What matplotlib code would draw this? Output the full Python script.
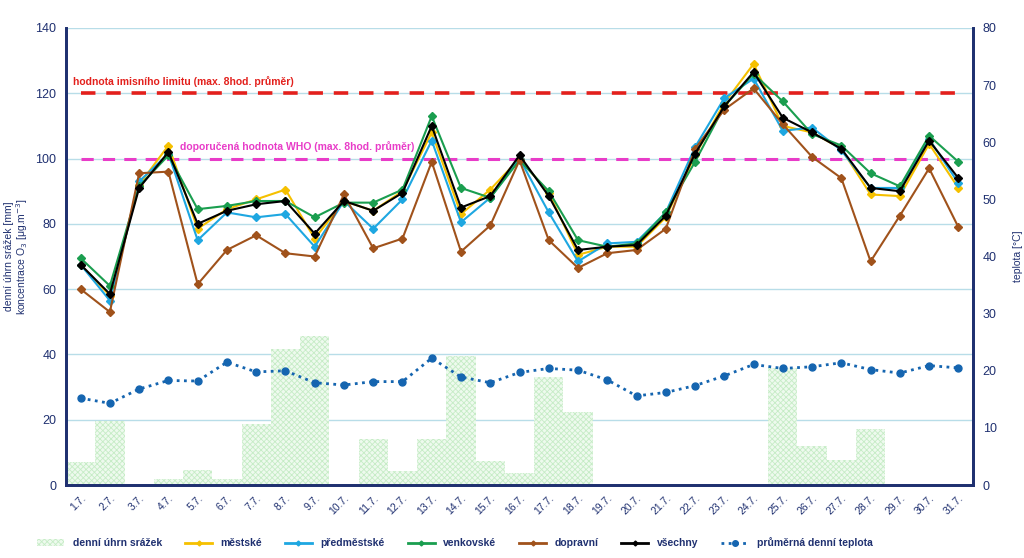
import matplotlib
matplotlib.use("Agg")
import matplotlib.pyplot as plt
import numpy as np
from matplotlib.patches import Patch
from matplotlib.lines import Line2D

plt.rcParams['font.family'] = ['Liberation Sans', 'DejaVu Sans']
plt.rcParams['hatch.linewidth'] = 0.6

days = [f"{d}.7." for d in range(1, 32)]

srazky = [7.1, 19.7, 0.3, 1.7, 4.6, 1.7, 18.7, 41.7, 45.6, 0.0,
          14.0, 4.3, 14.0, 39.5, 7.4, 3.8, 33.2, 22.5, 0.4, 0.0,
          0.0, 0.0, 0.0, 0.0, 35.7, 12.0, 7.7, 17.2, 0.0, 0.0, 0.0]

mestske = [67.5, 58, 92, 104, 78.5, 84.5, 87.5, 90.5, 75.5, 87,
           84, 90, 108, 83, 90.5, 100, 89.5, 70.5, 73, 73,
           82, 101, 117, 129, 110, 108, 103, 89, 88.5, 104.5, 91]

predmestske = [67.5, 56.5, 93, 101.5, 75, 83.5, 82, 83, 73, 87,
               78.5, 87.5, 105.5, 80.5, 88, 100, 83.5, 68.5, 74, 74.5,
               83.5, 103.5, 118.5, 124.5, 108.5, 109.5, 102.5, 91, 91, 106, 92.5]

venkovske = [69.5, 61, 91.5, 101, 84.5, 85.5, 87, 87, 82, 86.5,
             86.5, 90.5, 113, 91, 88, 99.5, 90, 75, 73, 74,
             83.5, 99, 116, 126, 117.5, 107.5, 104, 95.5, 91.5, 107, 99]

dopravni = [60, 53, 95.5, 96, 61.5, 72, 76.5, 71, 70, 89,
            72.5, 75.5, 99, 71.5, 79.5, 99.5, 75, 66.5, 71, 72,
            78.5, 103, 115, 121.5, 110.5, 100.5, 94, 68.5, 82.5, 97, 79]

vsechny = [67.5, 58.5, 91, 102, 80, 84, 86, 87, 77, 87,
           84, 89.5, 110, 85, 88.5, 101, 88.5, 72, 73, 73.5,
           82.5, 101.5, 116, 126.5, 112.5, 108, 103, 91, 90, 105.5, 94]

teplota = [15.2, 14.3, 16.8, 18.3, 18.2, 21.5, 19.8, 20.0, 17.9, 17.5,
           18.1, 18.1, 22.2, 18.9, 17.9, 19.7, 20.4, 20.1, 18.4, 15.6,
           16.2, 17.4, 19.1, 21.1, 20.4, 20.7, 21.4, 20.2, 19.6, 20.9, 20.5]

limit_value = 120
who_value = 100
limit_text = "hodnota imisního limitu (max. 8hod. průměr)"
who_text = "doporučená hodnota WHO (max. 8hod. průměr)"

navy = '#1f3070'
c_mest = '#f5c000'
c_pred = '#1ea7e1'
c_venk = '#1a9e4f'
c_dop = '#a0521b'
c_vse = '#000000'
c_tep = '#1565b0'

fig = plt.figure(figsize=(10.24, 5.58), dpi=100)
ax = fig.add_axes([66/1024, 1-485/558, (973-66)/1024, (485-28)/558])
x = np.arange(len(days))

ax.bar(x, srazky, width=1.0, color='#eefaee', edgecolor='#c6ecc6',
       hatch='xxxxxx', linewidth=0, zorder=1)

ax.set_ylim(0, 140)
ax.set_xlim(-0.5, len(days) - 0.5)
ax.set_yticks(np.arange(0, 141, 20))
ax.grid(axis='y', color='#b8dde8', linewidth=1.0, zorder=0)
ax.set_axisbelow(True)

ax.hlines(limit_value, 0, 30, colors='#e3201c', linestyles=(0, (4, 3)), linewidth=2.6, zorder=3)
ax.hlines(who_value, 0, 30, colors='#e83cc8', linestyles=(0, (4, 3)), linewidth=2.2, zorder=3)
ax.text(-0.25, limit_value + 2.0, limit_text, color='#e3201c', fontsize=7.5, fontweight='bold',
        ha='left', va='bottom', zorder=4)
ax.text(3.4, who_value + 2.0, who_text, color='#e83cc8', fontsize=7.5, fontweight='bold',
        ha='left', va='bottom', zorder=4)

series = [(mestske, c_mest, 'městské'), (predmestske, c_pred, 'předměstské'),
          (venkovske, c_venk, 'venkovské'), (dopravni, c_dop, 'dopravní'),
          (vsechny, c_vse, 'všechny')]
for vals, col, lab in series:
    ax.plot(x, vals, color=col, linewidth=1.5, marker='D', markersize=4.5, zorder=5)

ax2 = ax.twinx()
ax2.set_ylim(0, 80)
ax2.set_yticks(np.arange(0, 81, 10))
ax2.plot(x, teplota, color=c_tep, linestyle=(0, (1, 1.6)), linewidth=2.0,
         marker='o', markersize=5, zorder=5)

for a in (ax, ax2):
    a.spines['top'].set_visible(False)
    a.spines['left'].set_color(navy)
    a.spines['right'].set_color(navy)
    a.spines['bottom'].set_color(navy)
    a.spines['left'].set_linewidth(2)
    a.spines['right'].set_linewidth(2)
    a.spines['bottom'].set_linewidth(2)
    a.tick_params(axis='y', length=0, labelsize=9, labelcolor=navy, pad=7)

ax.set_xticks(x)
ax.set_xticklabels(days, rotation=45, ha='right', rotation_mode='anchor', fontsize=7.5, color=navy)
ax.tick_params(axis='x', length=0, pad=6)

ax.set_ylabel("denní úhrn srážek [mm]\nkoncentrace O$_3$ [μg.m$^{-3}$]", color=navy, fontsize=7.5,
              labelpad=4, linespacing=1.0)
ax2.set_ylabel("teplota [°C]", color=navy, fontsize=7.5, labelpad=12)

handles = [Patch(facecolor='#eefaee', edgecolor='#c6ecc6', hatch='xxxxxx', linewidth=0)]
labels = ['denní úhrn srážek']
for vals, col, lab in series:
    handles.append(Line2D([0], [0], color=col, linewidth=2, marker='D', markersize=2.5))
    labels.append(lab)
handles.append(Line2D([0], [0], color=c_tep, linestyle=(0, (1, 1.6)), linewidth=2,
                      marker='o', markersize=4))
labels.append('průměrná denní teplota')

leg = fig.legend(handles, labels, loc='center left', bbox_to_anchor=(28/1024, 1-543/558),
                 ncol=7, frameon=False, fontsize=7.5, handlelength=2.6, columnspacing=2.2,
                 handletextpad=0.8)
for t in leg.get_texts():
    t.set_color(navy)
    t.set_fontweight('bold')

fig.savefig("out.png", dpi=100)
